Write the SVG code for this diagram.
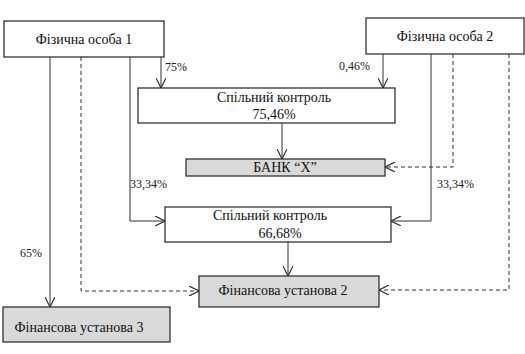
<svg xmlns="http://www.w3.org/2000/svg" width="525" height="354" viewBox="0 0 525 354">
<style>
.box{fill:#fff;stroke:#333;stroke-width:1.3}
.grey{fill:#d9d9d9;stroke:#333;stroke-width:1.3}
.t{font-family:'Liberation Serif','Times New Roman','DejaVu Serif',serif;font-size:14px;fill:#111;text-anchor:middle}
.s{font-family:'Liberation Serif','Times New Roman','DejaVu Serif',serif;font-size:12px;fill:#222}
.ln{fill:none;stroke:#333;stroke-width:1}
.d{stroke-dasharray:4 3}
</style>
<defs>
<marker id="a" viewBox="0 0 10 10" refX="10" refY="5" markerWidth="10" markerHeight="10" markerUnits="userSpaceOnUse" orient="auto">
<path d="M0,0 L10,5 L0,10" fill="none" stroke="#333" stroke-width="1.2"/>
</marker>
</defs>
<rect width="525" height="354" fill="#fff"/>
<g id="connectors">
<path class="ln" d="M161,57 V88" marker-end="url(#a)"/>
<path class="ln" d="M383,54 V88" marker-end="url(#a)"/>
<path class="ln" d="M282,123 V159" marker-end="url(#a)"/>
<path class="ln d" d="M453,54 V167 H385" marker-end="url(#a)"/>
<path class="ln" d="M130,57 V221 H165" marker-end="url(#a)"/>
<path class="ln" d="M431,54 V221 H391" marker-end="url(#a)"/>
<path class="ln" d="M288,242 V276" marker-end="url(#a)"/>
<path class="ln d" d="M81,57 V291 H199" marker-end="url(#a)"/>
<path class="ln d" d="M509,54 V290 H379" marker-end="url(#a)"/>
<path class="ln" d="M50,57 V307" marker-end="url(#a)"/>
<text class="s" x="165" y="71">75%</text>
<text class="s" x="339" y="70">0,46%</text>
<text class="s" x="130" y="188">33,34%</text>
<text class="s" x="437" y="188">33,34%</text>
<text class="s" x="20" y="257">65%</text>
</g>
<g id="person1"><rect class="box" x="4" y="21" width="160" height="36"/><text class="t" x="84" y="44">Фізична особа 1</text></g>
<g id="person2"><rect class="box" x="366" y="18" width="158" height="36"/><text class="t" x="445" y="41">Фізична особа 2</text></g>
<g id="joint1"><rect class="box" x="138" y="88" width="257" height="35"/><text class="t" x="274" y="102">Спільний контроль</text><text class="t" x="274" y="119">75,46%</text></g>
<g id="bank"><rect class="grey" x="186" y="159" width="199" height="17"/><text class="t" x="285" y="172">БАНК “Х”</text></g>
<g id="joint2"><rect class="box" x="165" y="207" width="226" height="35"/><text class="t" x="270" y="220">Спільний контроль</text><text class="t" x="280" y="238">66,68%</text></g>
<g id="fin2"><rect class="grey" x="199" y="276" width="180" height="31"/><text class="t" x="283" y="295">Фінансова установа 2</text></g>
<g id="fin3"><rect class="grey" x="3" y="307" width="167" height="35"/><text class="t" x="79" y="332">Фінансова установа  3</text></g>
</svg>
